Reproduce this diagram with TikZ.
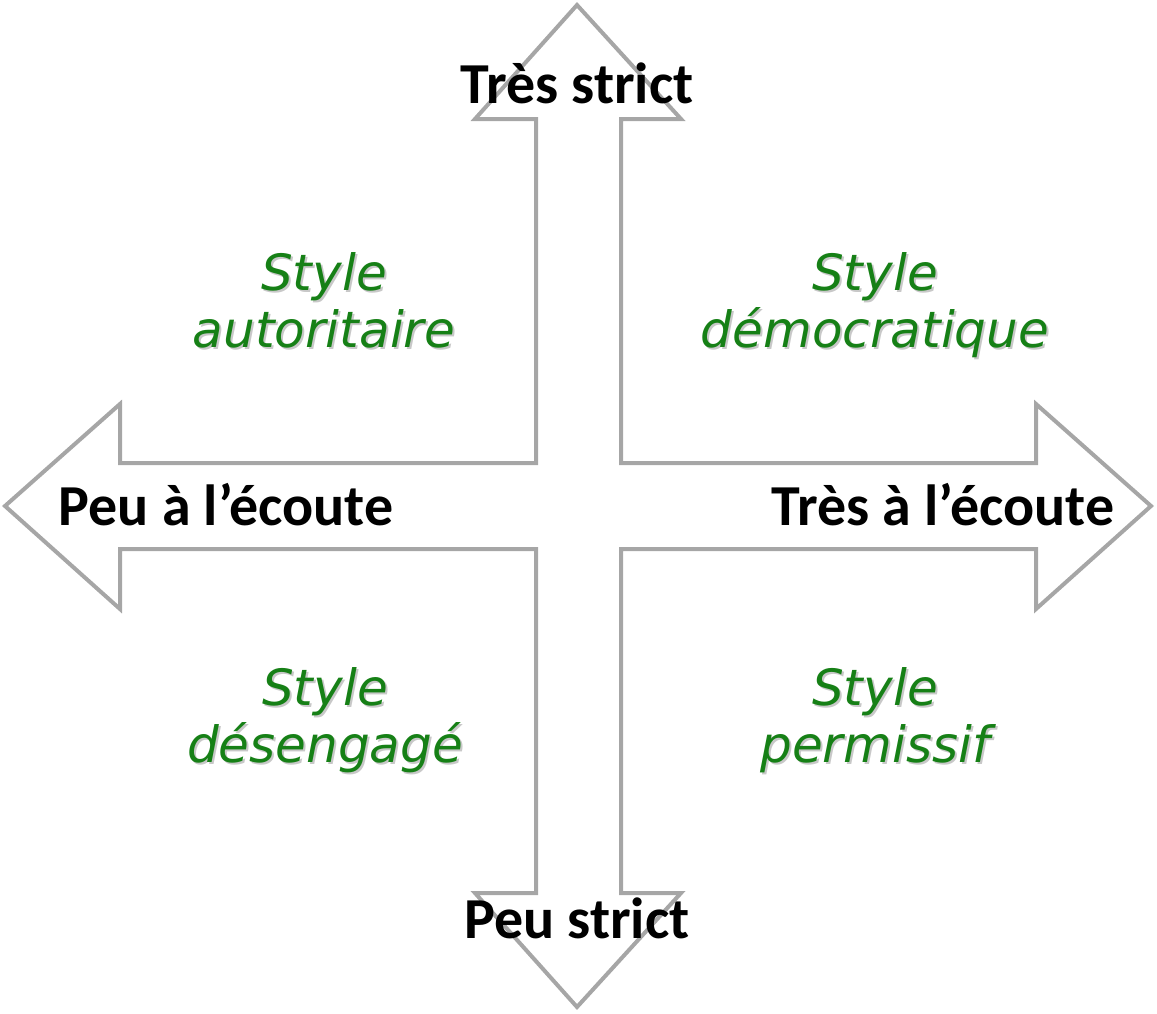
\documentclass[tikz,border=0pt]{standalone}
\usepackage{fontspec}
\setmainfont{Carlito}
\newfontfamily\greenfont{DejaVu Sans}
\definecolor{arrowgray}{RGB}{166,166,166}
\definecolor{stylegreen}{RGB}{22,128,22}
\definecolor{shadowgray}{RGB}{200,200,200}
\newcommand{\shadowtext}[1]{\makebox[0pt][l]{\hspace{2pt}\raisebox{-2pt}{\color{shadowgray}#1}}#1}
\begin{document}
\begin{tikzpicture}[x=1pt,y=-1pt,
  axislabel/.style={inner sep=0pt, anchor=base, font=\fontsize{58}{60}\selectfont\bfseries},
  stylelabel/.style={inner sep=0pt, anchor=base, text=stylegreen, font=\greenfont\itshape\fontsize{50}{57}\selectfont},
  outline/.style={draw=arrowgray, line width=4pt, line join=miter}]
\useasboundingbox (0,0) rectangle (1157,1013);
\draw[outline] (577,5) -- (681,119) -- (621,119) -- (621,463) -- (1036,463) -- (1036,404)
  -- (1151,506) -- (1036,609) -- (1036,549) -- (621,549) -- (621,893) -- (681,893)
  -- (577,1007) -- (475,893) -- (536,893) -- (536,549) -- (120,549) -- (120,609)
  -- (5,506) -- (120,404) -- (120,463) -- (536,463) -- (536,119) -- (475,119) -- cycle;
\node[axislabel] (top) at (577,103) {Très strict};
\node[axislabel] (bottom) at (577,938) {Peu strict};
\node[axislabel] (left) at (226,525) {Peu à l’écoute};
\node[axislabel] (right) at (943,525) {Très à l’écoute};
\node[stylelabel] (a1) at (324,290) {\shadowtext{Style}};
\node[stylelabel] (a2) at (324,347) {\shadowtext{autoritaire}};
\node[stylelabel] (d1) at (875,290) {\shadowtext{Style}};
\node[stylelabel] (d2) at (875,347) {\shadowtext{démocratique}};
\node[stylelabel] (g1) at (325,705) {\shadowtext{Style}};
\node[stylelabel] (g2) at (325,762) {\shadowtext{désengagé}};
\node[stylelabel] (p1) at (875,705) {\shadowtext{Style}};
\node[stylelabel] (p2) at (875,762) {\shadowtext{permissif}};
\end{tikzpicture}
\end{document}
